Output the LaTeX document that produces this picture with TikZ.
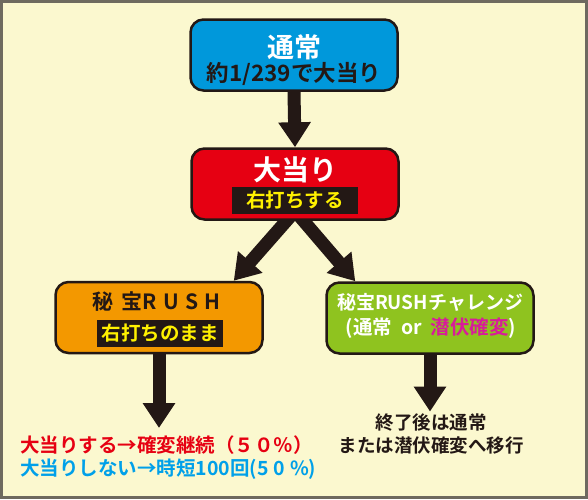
\documentclass[tikz,border=0pt]{standalone}
\usepackage{fontspec}
\setmainfont{Noto Sans CJK JP}[BoldFont={Noto Sans CJK JP Bold}]
\usetikzlibrary{arrows.meta,backgrounds}
\definecolor{cream}{HTML}{FBF8CF}
\definecolor{frame}{HTML}{6E6A5F}
\definecolor{ink}{HTML}{231815}
\definecolor{normalblue}{HTML}{0098DB}
\definecolor{hitred}{HTML}{E60012}
\definecolor{rushorange}{HTML}{F39800}
\definecolor{chalgreen}{HTML}{8FC31F}
\definecolor{signyellow}{HTML}{FFF100}
\definecolor{hidemagenta}{HTML}{D81C9A}
\definecolor{missblue}{HTML}{00A0E9}
\tikzset{
  flowbox/.style={draw=ink, line width=2.5pt, rounded corners=13pt,
    minimum width=207pt, minimum height=71pt, inner sep=0pt},
  bigarrow/.style={draw=ink, line width=13pt, -{Triangle[width=31pt,length=25pt]}},
  barlabel/.style={fill=ink, text=signyellow, inner sep=0pt,
    font=\bfseries\fontsize{19.5}{19.5}\selectfont, minimum width=126pt, minimum height=27pt},
}
\begin{document}
\begin{tikzpicture}[x=1pt,y=-1pt]
\useasboundingbox (0,0) rectangle (588,499);
% boxes
\node[flowbox, fill=normalblue] (normal) at (294,55) {};
\node[text=white, font=\bfseries\fontsize{27}{27}\selectfont] (normaltitle) at (294,47) {通常};
\node[text=ink, font=\bfseries\fontsize{22.5}{22.5}\selectfont] (normalodds) at (294,74) {約1/239で大当り};
\node[flowbox, fill=hitred] (hit) at (295,184) {};
\node[text=white, font=\bfseries\fontsize{28}{28}\selectfont] (hittitle) at (295,170) {大当り};
\node[barlabel] (hitbar) at (295,200.5) {右打ちする};
\node[flowbox, fill=rushorange] (rush) at (159,317.5) {};
\node[text=ink, font=\bfseries\fontsize{21}{21}\selectfont] (rushtitle) at (156.5,302)
  {秘\hspace{8pt}宝R\hspace{6pt}U\hspace{6pt}S\hspace{6pt}H};
\node[barlabel] (rushbar) at (160,333.5) {右打ちのまま};
\node[flowbox, fill=chalgreen] (chal) at (430,318) {};
\node[text=white, font=\bfseries\fontsize{19}{19}\selectfont] (chaltitle) at (430,302) {秘宝RUSHチャレンジ};
\node[text=white, font=\bfseries\fontsize{19.5}{19.5}\selectfont] (chalsub) at (431,328)
  {(通常 \ or \ \textcolor{hidemagenta}{潜伏確変})};
% results
\node[anchor=north west, align=left, inner sep=0pt, font=\bfseries\fontsize{19.5}{22.5}\selectfont] (result) at (20,436)
  {\textcolor{hitred}{大当りする→確変継続（５０％）}\\
   \textcolor{missblue}{大当りしない→時短100回(5\hspace{5pt}0\hspace{5pt}\%)}};
\node[align=center, inner sep=2pt, text=ink, font=\bfseries\fontsize{18.5}{23}\selectfont] (after) at (431,434)
  {終了後は通常\\または潜伏確変へ移行};
% arrows
\begin{pgfonlayer}{background}
\fill[cream] (0,0) rectangle (588,499);
\draw[frame, line width=2.5pt] (1.5,1.5) rectangle (586.5,497.5);
\draw[bigarrow] (normal.south) -- (hit.north);
\draw[bigarrow] ([xshift=-5pt,yshift=4pt]hit.south) -- ([xshift=-30pt]rush.north east);
\draw[bigarrow] ([xshift=5pt,yshift=4pt]hit.south) -- ([xshift=30pt]chal.north west);
\draw[bigarrow, shorten >=8pt] (rush.south) -- (rush.south |- result.north);
\draw[bigarrow] (chal.south) -- (chal.south |- after.north);
\end{pgfonlayer}
\end{tikzpicture}
\end{document}
